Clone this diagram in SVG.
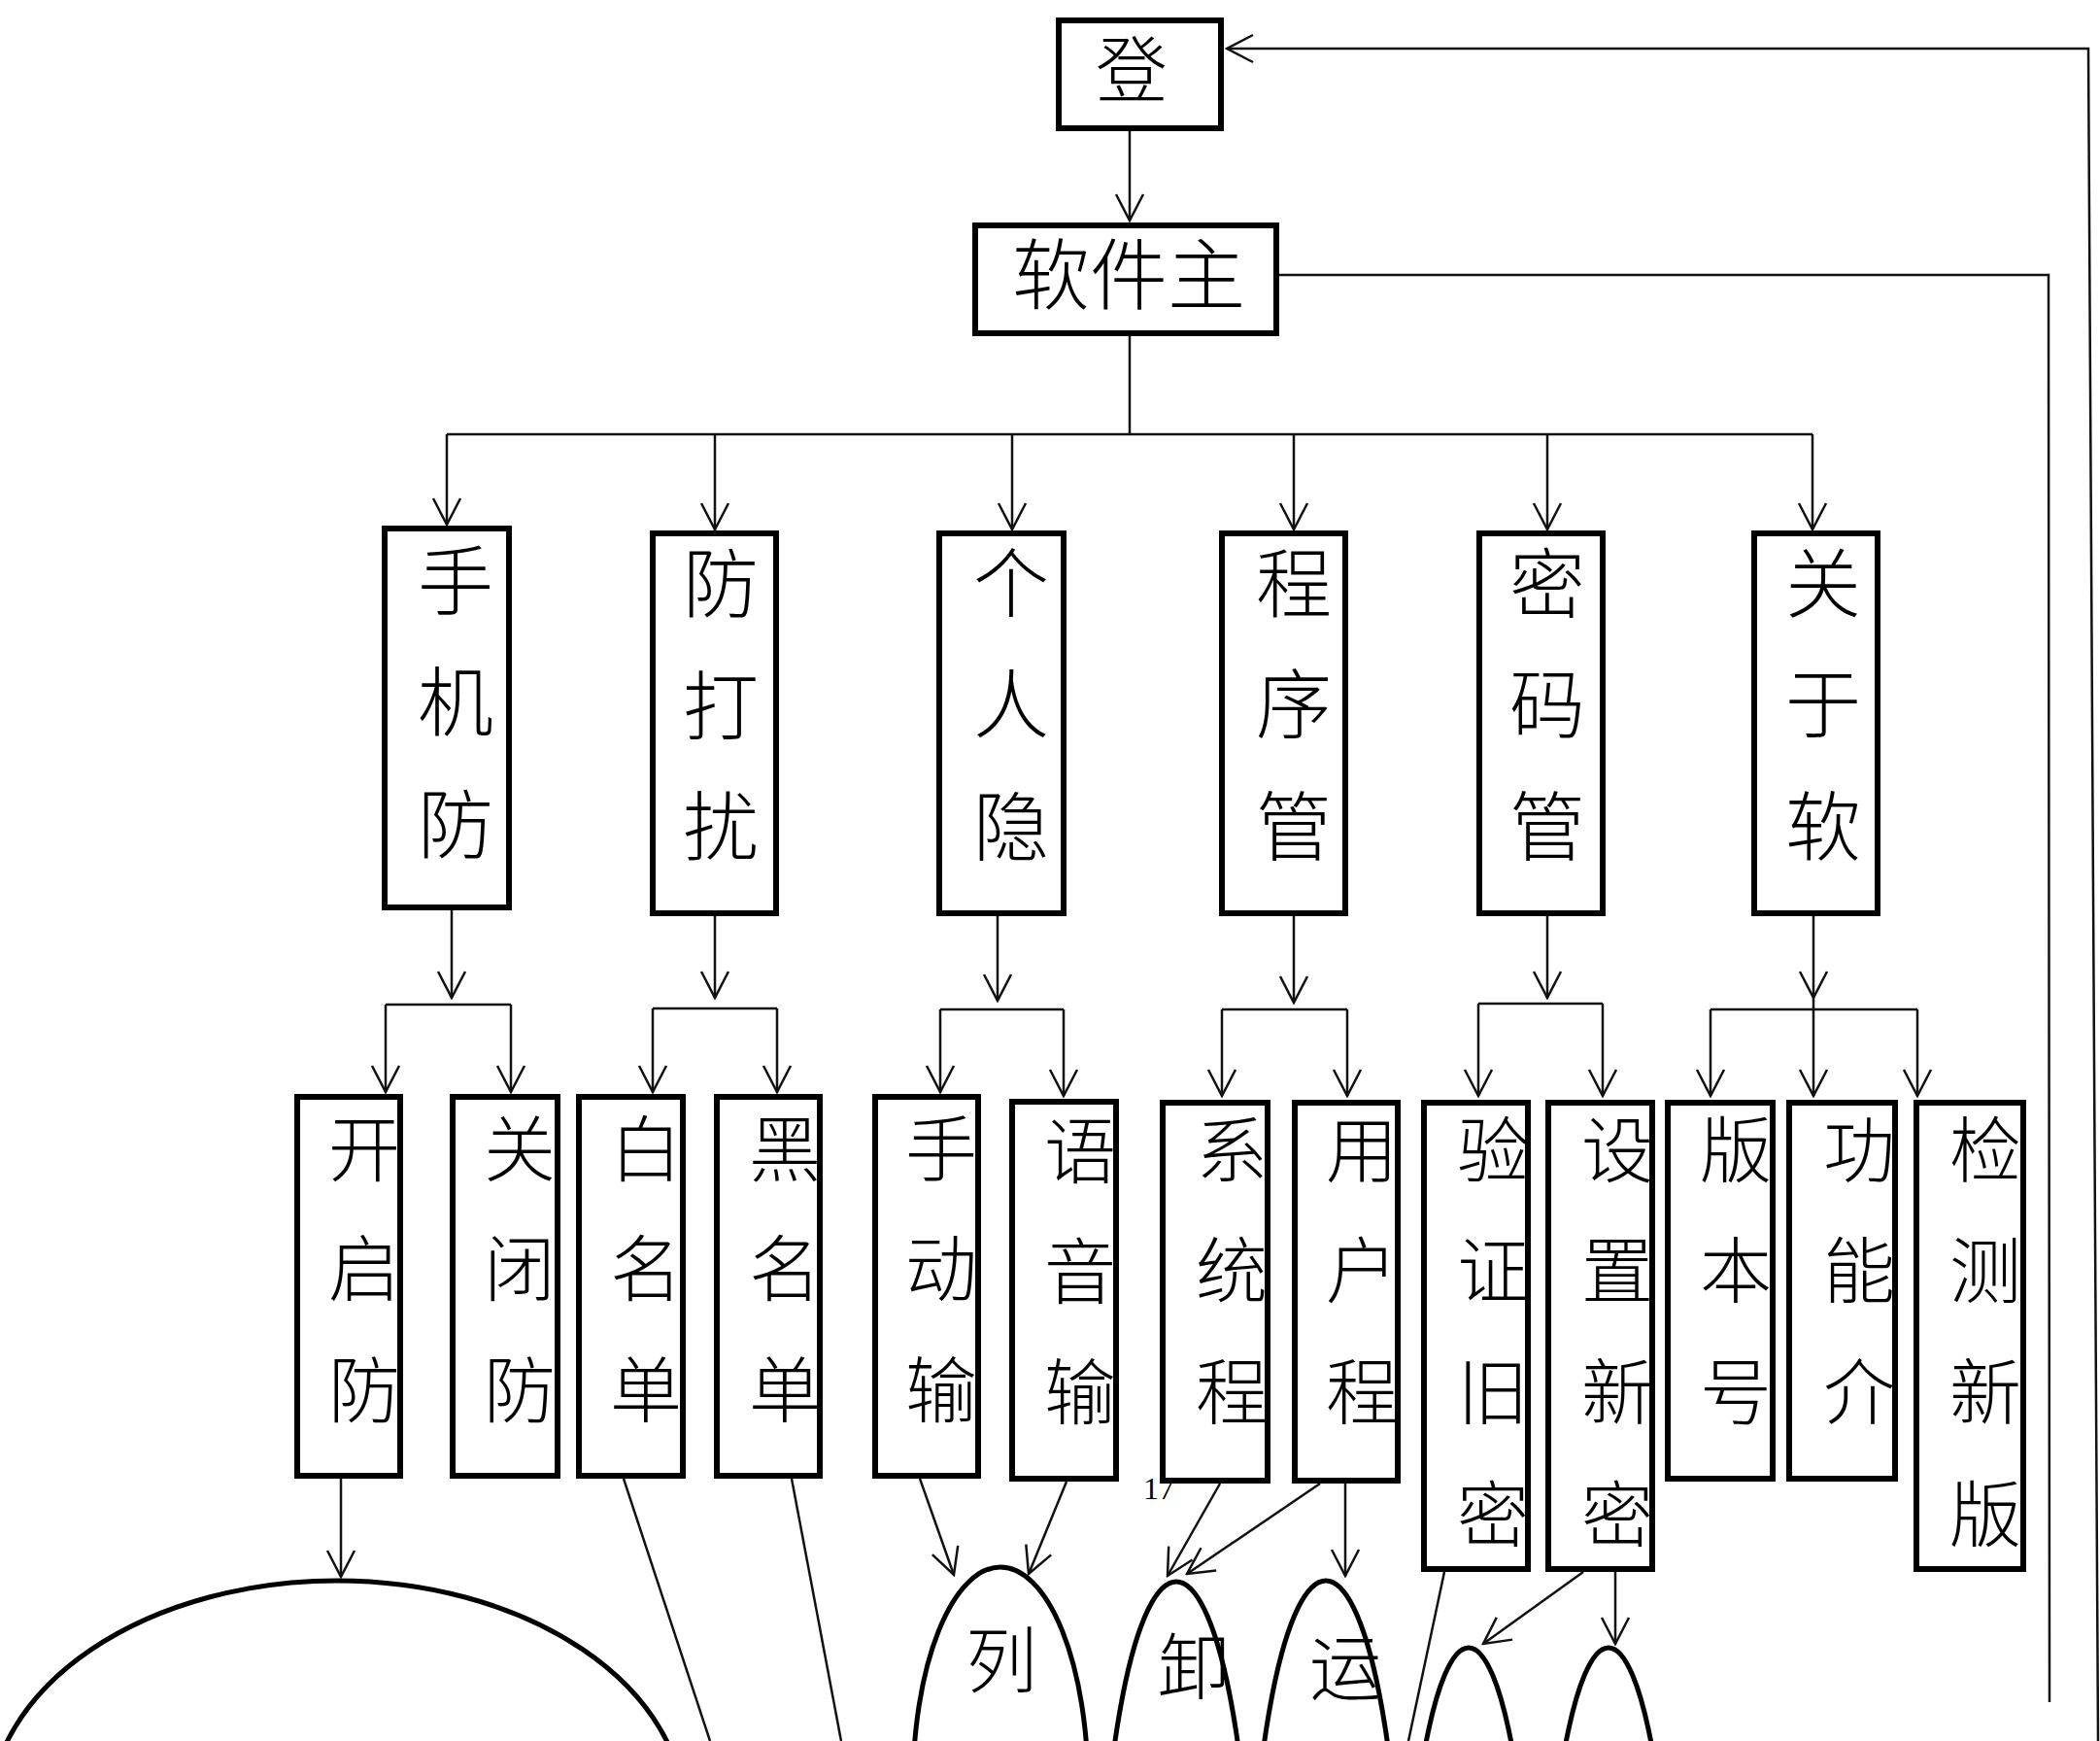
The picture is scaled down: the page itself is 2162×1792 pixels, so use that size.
<svg xmlns="http://www.w3.org/2000/svg" width="2162" height="1792" viewBox="0 0 2162 1792">
<style>
.box{fill:#fff;stroke:#000;stroke-width:6}
.ell{fill:none;stroke:#000;stroke-width:5}
.ln{fill:none;stroke:#111;stroke-width:2.5}
.arr{fill:none;stroke:#111;stroke-width:2.5;marker-end:url(#ah)}
.t{font-family:"Noto Sans CJK SC","Noto Sans CJK JP",sans-serif;font-weight:300;fill:#000;text-anchor:middle}
.t1{font-size:74px}
.t2{font-size:78px}
.t3{font-size:74px}
.pg{font-family:"Liberation Serif",serif;font-size:32px;fill:#000}
</style>
<defs>
<marker id="ah" viewBox="-30 -16 32 32" refX="0" refY="0" markerWidth="32" markerHeight="32" markerUnits="userSpaceOnUse" orient="auto">
<path d="M-27,-14 L0,0 L-27,14" fill="none" stroke="#111" stroke-width="2.5"/>
</marker>
</defs>
<rect width="2162" height="1792" fill="#fff"/>
<text class="pg" x="1177" y="1543">17</text>
<g id="connectors">
<path class="arr" d="M1163,135 V227"/>
<path class="arr" d="M2160,1792 L2150,50 H1263"/>
<path class="ln" d="M1317,283 H2109 L2110,1752"/>
<path class="ln" d="M1163,346 V447 M460,447 H1866"/>
<path class="arr" d="M460,447 V540"/>
<path class="arr" d="M736,447 V545"/>
<path class="arr" d="M1042,447 V545"/>
<path class="arr" d="M1332,447 V545"/>
<path class="arr" d="M1593,447 V545"/>
<path class="arr" d="M1866,447 V545"/>
<path class="arr" d="M465,937 V1027"/>
<path class="ln" d="M397,1034 H526"/>
<path class="arr" d="M397,1034 V1124"/>
<path class="arr" d="M526,1034 V1124"/>
<path class="arr" d="M736,943 V1027"/>
<path class="ln" d="M672,1038 H800"/>
<path class="arr" d="M672,1038 V1124"/>
<path class="arr" d="M800,1038 V1124"/>
<path class="arr" d="M1027,943 V1030"/>
<path class="ln" d="M968,1039 H1095"/>
<path class="arr" d="M968,1039 V1124"/>
<path class="arr" d="M1095,1039 V1128"/>
<path class="arr" d="M1332,943 V1032"/>
<path class="ln" d="M1258,1039 H1387"/>
<path class="arr" d="M1258,1039 V1128"/>
<path class="arr" d="M1387,1039 V1128"/>
<path class="arr" d="M1593,943 V1027"/>
<path class="ln" d="M1522,1033 H1650"/>
<path class="arr" d="M1522,1033 V1128"/>
<path class="arr" d="M1650,1033 V1128"/>
<path class="arr" d="M1867,935 V1027"/>
<path class="ln" d="M1761,1039 H1974 M1867,1027 V1039"/>
<path class="arr" d="M1761,1039 V1128"/>
<path class="arr" d="M1867,1039 V1128"/>
<path class="arr" d="M1974,1039 V1128"/>
<path class="arr" d="M351,1522 V1623"/>
<path class="ln" d="M642,1522 L731,1792"/>
<path class="ln" d="M815,1522 L866,1792"/>
<path class="arr" d="M947,1522 L982,1621"/>
<path class="arr" d="M1098,1525 L1059,1620"/>
<path class="arr" d="M1256,1527 L1202,1622"/>
<path class="arr" d="M1359,1527 L1222,1620"/>
<path class="arr" d="M1385,1527 V1622"/>
<path class="ln" d="M1487,1618 L1450,1792"/>
<path class="arr" d="M1630,1618 L1527,1692"/>
<path class="arr" d="M1663,1618 V1692"/>
</g>
<g id="n-login"><rect class="box" x="1090" y="21" width="167" height="111"/><text class="t t1" x="1165" y="99">登</text></g>
<g id="n-main"><rect class="box" x="1004" y="232" width="310" height="111"/><text class="t" style="font-size:80px" x="1162" y="312">软件主</text></g>
<g id="n-phone"><rect class="box" x="396" y="544" width="128" height="390"/><text class="t t2"><tspan x="469" y="627">手</tspan><tspan x="469" y="752">机</tspan><tspan x="469" y="878">防</tspan></text></g>
<g id="n-dnd"><rect class="box" x="672" y="549" width="127" height="391"/><text class="t t2"><tspan x="742" y="630">防</tspan><tspan x="742" y="756">打</tspan><tspan x="742" y="880">扰</tspan></text></g>
<g id="n-privacy"><rect class="box" x="967" y="549" width="128" height="391"/><text class="t t2"><tspan x="1041" y="630">个</tspan><tspan x="1041" y="754">人</tspan><tspan x="1041" y="880">隐</tspan></text></g>
<g id="n-app"><rect class="box" x="1258" y="549" width="127" height="391"/><text class="t t2"><tspan x="1332" y="630">程</tspan><tspan x="1332" y="754">序</tspan><tspan x="1332" y="880">管</tspan></text></g>
<g id="n-pwd"><rect class="box" x="1523" y="549" width="127" height="391"/><text class="t t2"><tspan x="1593" y="630">密</tspan><tspan x="1593" y="754">码</tspan><tspan x="1593" y="880">管</tspan></text></g>
<g id="n-about"><rect class="box" x="1806" y="549" width="127" height="391"/><text class="t t2"><tspan x="1877" y="630">关</tspan><tspan x="1877" y="754">于</tspan><tspan x="1877" y="880">软</tspan></text></g>
<g id="n-on"><rect class="box" x="306" y="1129" width="106" height="390"/><text class="t t3"><tspan x="375" y="1210">开</tspan><tspan x="375" y="1333">启</tspan><tspan x="375" y="1458">防</tspan></text></g>
<g id="n-off"><rect class="box" x="466" y="1129" width="108" height="390"/><text class="t t3"><tspan x="535" y="1210">关</tspan><tspan x="535" y="1333">闭</tspan><tspan x="535" y="1458">防</tspan></text></g>
<g id="n-white"><rect class="box" x="596" y="1129" width="107" height="390"/><text class="t t3"><tspan x="665" y="1210">白</tspan><tspan x="665" y="1333">名</tspan><tspan x="665" y="1458">单</tspan></text></g>
<g id="n-black"><rect class="box" x="738" y="1129" width="106" height="390"/><text class="t t3"><tspan x="808" y="1210">黑</tspan><tspan x="808" y="1333">名</tspan><tspan x="808" y="1458">单</tspan></text></g>
<g id="n-manual"><rect class="box" x="901" y="1129" width="106" height="390"/><text class="t t3"><tspan x="969" y="1210">手</tspan><tspan x="969" y="1333">动</tspan><tspan x="969" y="1458">输</tspan></text></g>
<g id="n-voice"><rect class="box" x="1042" y="1134" width="107" height="388"/><text class="t t3"><tspan x="1112" y="1212">语</tspan><tspan x="1112" y="1336">音</tspan><tspan x="1112" y="1460">输</tspan></text></g>
<g id="n-sys"><rect class="box" x="1197" y="1135" width="108" height="389"/><text class="t t3"><tspan x="1268" y="1211">系</tspan><tspan x="1268" y="1335">统</tspan><tspan x="1268" y="1460">程</tspan></text></g>
<g id="n-user"><rect class="box" x="1333" y="1135" width="106" height="389"/><text class="t t3"><tspan x="1402" y="1211">用</tspan><tspan x="1402" y="1335">户</tspan><tspan x="1402" y="1460">程</tspan></text></g>
<g id="n-verify"><rect class="box" x="1466" y="1135" width="107" height="480"/><text class="t t3"><tspan x="1537" y="1211">验</tspan><tspan x="1537" y="1335">证</tspan><tspan x="1537" y="1460">旧</tspan><tspan x="1537" y="1586">密</tspan></text></g>
<g id="n-setpwd"><rect class="box" x="1594" y="1135" width="107" height="480"/><text class="t t3"><tspan x="1665" y="1211">设</tspan><tspan x="1665" y="1335">置</tspan><tspan x="1665" y="1460">新</tspan><tspan x="1665" y="1586">密</tspan></text></g>
<g id="n-ver"><rect class="box" x="1717" y="1135" width="108" height="387"/><text class="t t3"><tspan x="1787" y="1211">版</tspan><tspan x="1787" y="1335">本</tspan><tspan x="1787" y="1460">号</tspan></text></g>
<g id="n-intro"><rect class="box" x="1842" y="1135" width="109" height="387"/><text class="t t3"><tspan x="1914" y="1211">功</tspan><tspan x="1914" y="1335">能</tspan><tspan x="1914" y="1460">介</tspan></text></g>
<g id="n-check"><rect class="box" x="1973" y="1135" width="110" height="480"/><text class="t t3"><tspan x="2044" y="1211">检</tspan><tspan x="2044" y="1335">测</tspan><tspan x="2044" y="1460">新</tspan><tspan x="2044" y="1586">版</tspan></text></g>
<g id="e-big"><ellipse class="ell" cx="347" cy="1869" rx="358" ry="242"/></g>
<g id="e-list"><ellipse class="ell" cx="1030" cy="1837" rx="90" ry="224"/><text class="t t3" x="1031" y="1736">列</text></g>
<g id="e-uninstall"><ellipse class="ell" cx="1211" cy="2028" rx="78" ry="400"/><text class="t t3" x="1229" y="1743">卸</text></g>
<g id="e-run"><ellipse class="ell" cx="1365" cy="2027" rx="78" ry="400"/><text class="t t3" x="1385" y="1744">运</text></g>
<g id="e-a"><ellipse class="ell" cx="1512" cy="2096" rx="67" ry="400"/></g>
<g id="e-b"><ellipse class="ell" cx="1656" cy="2096" rx="67" ry="400"/></g>
</svg>
